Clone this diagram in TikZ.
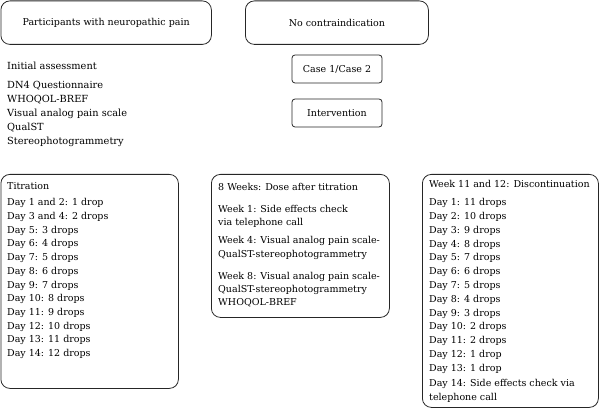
\documentclass[tikz,border=0pt]{standalone}
\usepackage{fontspec}
\setmainfont{DejaVu Serif}
\usetikzlibrary{positioning}

\tikzset{
  frame/.style={draw=black!85, line width=0.8pt, rounded corners=9pt, inner sep=0pt, anchor=north west,
    font=\fontsize{9.5}{13.7}\selectfont},
  smallframe/.style={draw=black!85, line width=0.8pt, rounded corners=3pt, minimum width=90pt, minimum height=28pt,
    font=\fontsize{9.5}{13.7}\selectfont},
  list/.style={align=left, inner sep=0pt, anchor=north west, font=\fontsize{9.5}{13.7}\selectfont}
}

\begin{document}
\begin{tikzpicture}[x=1pt,y=-1pt]
  \useasboundingbox (0,0) rectangle (600,409);

  % top row
  \node[frame, minimum width=210.5pt, minimum height=43.5pt] (part) at (0.5,0.5) {Participants with neuropathic pain};
  \node[frame, minimum width=183pt, minimum height=43.5pt] (nocontra) at (245,0.5) {No contraindication};
  \node[smallframe] (case) at (337,69) {Case 1/Case 2};
  \node[smallframe] (interv) at (337,113) {Intervention};

  \node[list, font=\fontsize{9.8}{14}\selectfont] (init) at (7,62) {Initial assessment\\[5pt]
    DN4 Questionnaire\\ WHOQOL-BREF\\ Visual analog pain scale\\ QualST\\ Stereophotogrammetry};

  % bottom row
  \node[frame, minimum width=177.5pt, minimum height=214pt] (titr) at (0.5,174) {};
  \node[frame, minimum width=178pt, minimum height=143pt] (weeks) at (211,174) {};
  \node[frame, minimum width=176pt, minimum height=233pt] (disc) at (422,174) {};

  \node[list, below right=8.5pt and 6.5pt of titr.north west] (titrtext) {Titration\\[2.5pt]
    Day 1 and 2: 1 drop\\ Day 3 and 4: 2 drops\\ Day 5: 3 drops\\ Day 6: 4 drops\\ Day 7: 5 drops\\
    Day 8: 6 drops\\ Day 9: 7 drops\\ Day 10: 8 drops\\ Day 11: 9 drops\\ Day 12: 10 drops\\
    Day 13: 11 drops\\ Day 14: 12 drops};
  \node[list, font=\fontsize{9.5}{13.3}\selectfont, below right=9pt and 7pt of weeks.north west] (weekstext) {8 Weeks: Dose after titration\\[8.7pt]
    Week 1: Side effects check\\ via telephone call\\[4.7pt]
    Week 4: Visual analog pain scale-\\ QualST-stereophotogrammetry\\[8.7pt]
    Week 8: Visual analog pain scale-\\ QualST-stereophotogrammetry\\ WHOQOL-BREF};
  \node[list, font=\fontsize{9.5}{13.8}\selectfont, below right=6pt and 7pt of disc.north west] (disctext) {Week 11 and 12: Discontinuation\\[4.5pt]
    Day 1: 11 drops\\ Day 2: 10 drops\\ Day 3: 9 drops\\ Day 4: 8 drops\\ Day 5: 7 drops\\
    Day 6: 6 drops\\ Day 7: 5 drops\\ Day 8: 4 drops\\ Day 9: 3 drops\\ Day 10: 2 drops\\
    Day 11: 2 drops\\ Day 12: 1 drop\\ Day 13: 1 drop\\[1.3pt]
    Day 14: Side effects check via\\ telephone call};
\end{tikzpicture}
\end{document}
